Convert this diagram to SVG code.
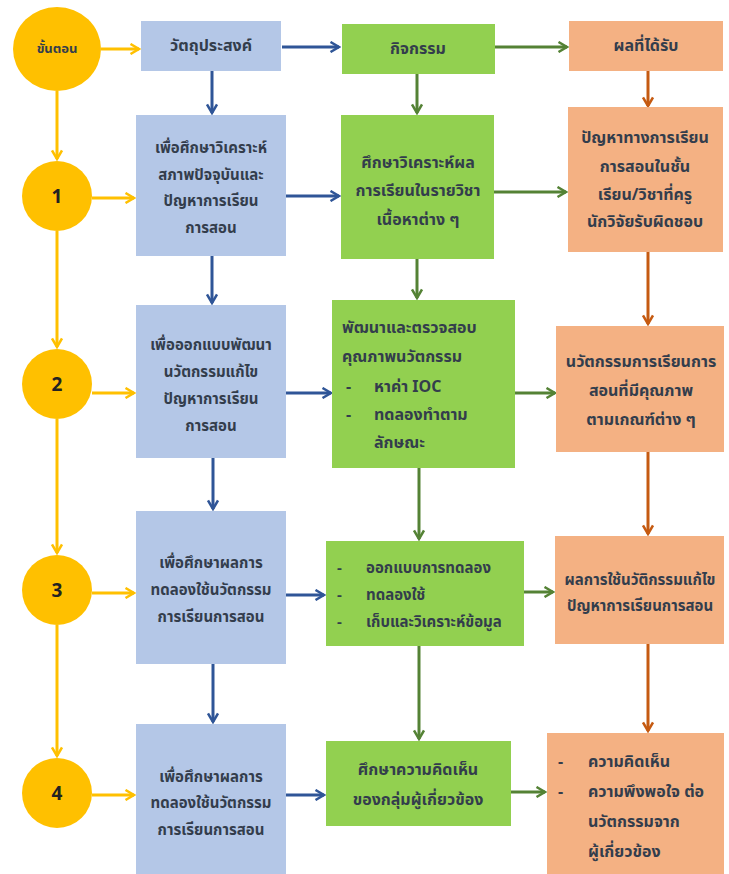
<svg xmlns="http://www.w3.org/2000/svg" width="729" height="874" viewBox="0 0 729 874">
<defs>
<style>
.t{font-family:"Noto Sans Thai","Noto Sans Thai UI","Noto Sans","DejaVu Sans",sans-serif;font-weight:bold;font-size:15px;fill:#333D4C;text-anchor:middle;dominant-baseline:central}
.l{text-anchor:start}
.h{font-size:16px}
.n{font-size:19px;fill:#222}
.c{fill:#FFC000}
.b{fill:#B4C7E7}
.g{fill:#92D050}
.o{fill:#F4B183}
.ay{stroke:#FFC000;stroke-width:3;fill:none;marker-end:url(#my)}
.ab{stroke:#2F5597;stroke-width:3;fill:none;marker-end:url(#mb)}
.ag{stroke:#548235;stroke-width:3;fill:none;marker-end:url(#mg)}
.ao{stroke:#C55A11;stroke-width:3;fill:none;marker-end:url(#mo)}
</style>
<marker id="my" viewBox="0 0 12 12" markerWidth="12" markerHeight="12" refX="10.5" refY="6" orient="auto" markerUnits="userSpaceOnUse"><path d="M2,1 L10.5,6 L2,11" fill="none" stroke="#FFC000" stroke-width="2.5"/></marker>
<marker id="mb" viewBox="0 0 12 12" markerWidth="12" markerHeight="12" refX="10.5" refY="6" orient="auto" markerUnits="userSpaceOnUse"><path d="M2,1 L10.5,6 L2,11" fill="none" stroke="#2F5597" stroke-width="2.5"/></marker>
<marker id="mg" viewBox="0 0 12 12" markerWidth="12" markerHeight="12" refX="10.5" refY="6" orient="auto" markerUnits="userSpaceOnUse"><path d="M2,1 L10.5,6 L2,11" fill="none" stroke="#548235" stroke-width="2.5"/></marker>
<marker id="mo" viewBox="0 0 12 12" markerWidth="12" markerHeight="12" refX="10.5" refY="6" orient="auto" markerUnits="userSpaceOnUse"><path d="M2,1 L10.5,6 L2,11" fill="none" stroke="#C55A11" stroke-width="2.5"/></marker>
</defs>
<rect width="729" height="874" fill="#FFFFFF"/>
<g id="connectors">
<path class="ay" d="M101,49 H139"/>
<path class="ab" d="M282,47 H339"/>
<path class="ag" d="M495,47 H567"/>
<path class="ay" d="M57,91 V159"/>
<path class="ab" d="M212,71 V113"/>
<path class="ag" d="M417,74 V113"/>
<path class="ao" d="M648,71 V106"/>
<path class="ay" d="M92,198 H134"/>
<path class="ab" d="M286,196 H339"/>
<path class="ag" d="M494,192 H566"/>
<path class="ay" d="M57,231 V347"/>
<path class="ab" d="M212,256 V303"/>
<path class="ag" d="M417,259 V298"/>
<path class="ao" d="M648,252 V324"/>
<path class="ay" d="M92,393 H134"/>
<path class="ab" d="M286,393 H331"/>
<path class="ag" d="M515,393 H555"/>
<path class="ay" d="M57,419 V553"/>
<path class="ab" d="M213,458 V509"/>
<path class="ag" d="M419,468 V539"/>
<path class="ao" d="M648,452 V534"/>
<path class="ay" d="M92,593 H134"/>
<path class="ab" d="M286,595 H324"/>
<path class="ag" d="M524,592 H553"/>
<path class="ay" d="M57,625 V756"/>
<path class="ab" d="M213,664 V722"/>
<path class="ag" d="M419,646 V739"/>
<path class="ao" d="M648,644 V731"/>
<path class="ay" d="M92,795 H134"/>
<path class="ab" d="M286,795 H324"/>
<path class="ag" d="M511,792 H545"/>
</g>
<g id="step-header"><ellipse class="c" cx="57" cy="49" rx="44" ry="42"/><text class="t" x="57" y="49" style="font-size:13px">ขั้นตอน</text></g>
<g id="obj-header"><rect class="b" x="141" y="21" width="140" height="50"/><text class="t h" x="211" y="46">วัตถุประสงค์</text></g>
<g id="act-header"><rect class="g" x="342" y="24" width="153" height="50"/><text class="t h" x="418" y="49">กิจกรรม</text></g>
<g id="res-header"><rect class="o" x="569" y="21" width="154" height="50"/><text class="t h" x="646" y="46">ผลที่ได้รับ</text></g>

<g id="step1"><circle class="c" cx="57" cy="196" r="35"/><text class="t n" x="57" y="197">1</text></g>
<g id="obj1"><rect class="b" x="136" y="115" width="150" height="141"/>
<text class="t" x="211" y="148">เพื่อศึกษาวิเคราะห์</text><text class="t" x="211" y="175">สภาพปัจจุบันและ</text><text class="t" x="211" y="201">ปัญหาการเรียน</text><text class="t" x="211" y="228">การสอน</text></g>
<g id="act1"><rect class="g" x="341" y="115" width="153" height="144"/>
<text class="t h" x="418" y="163">ศึกษาวิเคราะห์ผล</text><text class="t h" x="418" y="191">การเรียนในรายวิชา</text><text class="t h" x="418" y="220">เนื้อหาต่าง ๆ</text></g>
<g id="res1"><rect class="o" x="568" y="107" width="155" height="145"/>
<text class="t h" x="645" y="138">ปัญหาทางการเรียน</text><text class="t h" x="645" y="167">การสอนในชั้น</text><text class="t h" x="645" y="195">เรียน/วิชาที่ครู</text><text class="t h" x="645" y="222">นักวิจัยรับผิดชอบ</text></g>

<g id="step2"><circle class="c" cx="57" cy="384" r="35"/><text class="t n" x="57" y="385">2</text></g>
<g id="obj2"><rect class="b" x="136" y="305" width="150" height="153"/>
<text class="t" x="211" y="345">เพื่อออกแบบพัฒนา</text><text class="t" x="211" y="372">นวัตกรรมแก้ไข</text><text class="t" x="211" y="399">ปัญหาการเรียน</text><text class="t" x="211" y="426">การสอน</text></g>
<g id="act2"><rect class="g" x="332" y="300" width="183" height="168"/>
<text class="t h l" x="342" y="328">พัฒนาและตรวจสอบ</text><text class="t h l" x="342" y="357">คุณภาพนวัตกรรม</text>
<text class="t h l" x="346" y="387">-</text><text class="t h l" x="374" y="387">หาค่า IOC</text>
<text class="t h l" x="346" y="415">-</text><text class="t h l" x="374" y="415">ทดลองทำตาม</text>
<text class="t h l" x="374" y="443">ลักษณะ</text></g>
<g id="res2"><rect class="o" x="556" y="326" width="168" height="126"/>
<text class="t h" x="641" y="362">นวัตกรรมการเรียนการ</text><text class="t h" x="641" y="391">สอนที่มีคุณภาพ</text><text class="t h" x="641" y="420">ตามเกณฑ์ต่าง ๆ</text></g>

<g id="step3"><circle class="c" cx="57" cy="590" r="35"/><text class="t n" x="57" y="591">3</text></g>
<g id="obj3"><rect class="b" x="136" y="511" width="150" height="153"/>
<text class="t" x="211" y="563">เพื่อศึกษาผลการ</text><text class="t" x="211" y="590">ทดลองใช้นวัตกรรม</text><text class="t" x="211" y="617">การเรียนการสอน</text></g>
<g id="act3"><rect class="g" x="326" y="541" width="198" height="105"/>
<text class="t l" x="337" y="568">-</text><text class="t l" x="366" y="568">ออกแบบการทดลอง</text>
<text class="t l" x="337" y="595">-</text><text class="t l" x="366" y="595">ทดลองใช้</text>
<text class="t l" x="337" y="622">-</text><text class="t l" x="366" y="622">เก็บและวิเคราะห์ข้อมูล</text></g>
<g id="res3"><rect class="o" x="555" y="536" width="169" height="108"/>
<text class="t" x="640" y="580">ผลการใช้นวัติกรรมแก้ไข</text><text class="t" x="640" y="606">ปัญหาการเรียนการสอน</text></g>

<g id="step4"><circle class="c" cx="57" cy="793" r="35"/><text class="t n" x="57" y="794">4</text></g>
<g id="obj4"><rect class="b" x="136" y="724" width="150" height="150"/>
<text class="t" x="211" y="777">เพื่อศึกษาผลการ</text><text class="t" x="211" y="803">ทดลองใช้นวัตกรรม</text><text class="t" x="211" y="830">การเรียนการสอน</text></g>
<g id="act4"><rect class="g" x="326" y="741" width="185" height="85"/>
<text class="t h" x="418" y="770">ศึกษาความคิดเห็น</text><text class="t h" x="418" y="800">ของกลุ่มผู้เกี่ยวข้อง</text></g>
<g id="res4"><rect class="o" x="547" y="733" width="177" height="141"/>
<text class="t h l" x="558" y="762">-</text><text class="t h l" x="588" y="762">ความคิดเห็น</text>
<text class="t h l" x="558" y="792">-</text><text class="t h l" x="588" y="792">ความพึงพอใจ ต่อ</text>
<text class="t h l" x="588" y="822">นวัตกรรมจาก</text>
<text class="t h l" x="588" y="852">ผู้เกี่ยวข้อง</text></g>
</svg>
